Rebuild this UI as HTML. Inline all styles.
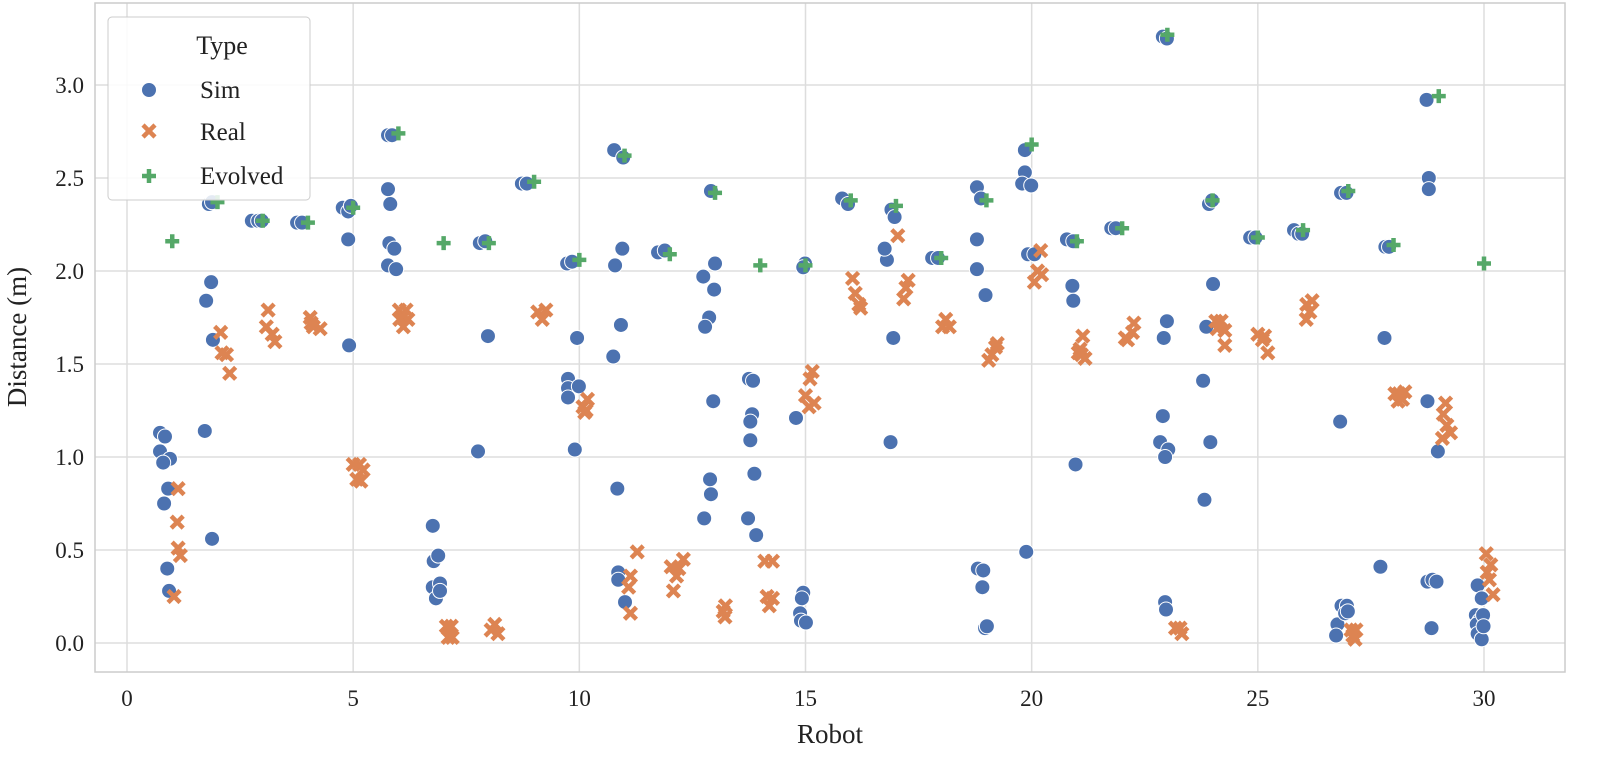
<!DOCTYPE html>
<html><head><meta charset="utf-8"><style>
html,body{margin:0;padding:0;background:#fff;}
svg{display:block;font-family:"Liberation Serif",serif;}
</style></head><body>
<svg id="chart" width="1600" height="761" viewBox="0 0 1600 761" xmlns="http://www.w3.org/2000/svg">
<g id="grid"></g>
<g id="marks"></g>
<rect x="95" y="3" width="1470" height="669" fill="none" stroke="#cccccc" stroke-width="1.5"/>
<g id="ticks"></g>
<text x="830" y="743" font-size="27" text-anchor="middle" fill="#222">Robot</text>
<text transform="translate(26,337) rotate(-90)" font-size="27" text-anchor="middle" fill="#222">Distance (m)</text>
<g>
<rect x="108" y="17" width="202" height="183" rx="4" fill="#fff" fill-opacity="0.85" stroke="#cccccc"/>
<text x="222" y="54" font-size="26" text-anchor="middle" fill="#222">Type</text>
<g><circle cx="149" cy="90" r="7.5" fill="#4c72b0" stroke="#fff" stroke-width="1"/><text x="200" y="98" font-size="25" fill="#222">Sim</text></g>
<g><path d="M143,125 L155,137 M155,125 L143,137" stroke="#dd8452" stroke-width="4.5"/><text x="200" y="140" font-size="25" fill="#222">Real</text></g>
<g><path d="M142,176 H156 M149,169 V183" stroke="#55a868" stroke-width="4.5"/><text x="200" y="184" font-size="25" fill="#222">Evolved</text></g>
</g>
</svg>
<script>
const xTicks=[0,5,10,15,20,25,30];
const yTicks=[0.0,0.5,1.0,1.5,2.0,2.5,3.0];
const simX=[0.73,0.84,0.73,0.95,0.80,0.91,0.82,0.89,0.93,
1.81,1.75,1.86,1.90,1.72,1.88,1.88,
2.76,2.90,2.98,3.76,3.87,
4.77,4.89,4.95,4.89,4.91,
5.77,5.86,5.77,5.82,5.80,5.91,5.77,5.95,
6.76,6.78,6.88,6.76,6.92,6.83,6.92,
7.76,7.80,7.92,7.98,8.73,8.84,
9.73,9.84,9.75,9.75,9.75,9.99,9.95,9.90,
10.77,10.97,10.95,10.79,10.92,10.75,10.84,10.86,10.86,11.01,
11.74,11.89,
12.91,12.74,13.00,12.98,12.87,12.78,12.96,12.89,12.91,12.76,
13.75,13.84,13.82,13.78,13.78,13.87,13.73,13.91,
14.79,14.95,14.92,14.88,14.90,15.01,14.99,14.95,
15.81,15.94,
16.90,16.97,16.80,16.75,16.94,16.88,
17.80,17.93,
18.79,18.88,18.79,18.79,18.98,18.81,18.93,18.91,18.97,19.01,
19.85,19.85,19.79,19.99,19.92,20.06,19.88,
20.78,20.92,20.90,20.92,20.97,
21.76,21.86,
22.90,22.99,22.99,22.92,22.90,22.84,23.02,22.95,22.95,22.97,
23.92,23.99,24.01,23.86,23.79,23.95,23.82,
24.83,24.95,25.80,25.90,25.98,
26.84,26.96,26.82,26.76,26.73,26.85,26.97,26.93,26.99,
27.82,27.90,27.80,27.71,
28.73,28.78,28.78,28.75,28.98,28.75,28.86,28.95,28.84,
29.86,29.95,29.82,29.90,29.84,29.98,29.86,29.95,29.99];
const simY=[1.13,1.11,1.03,0.99,0.97,0.83,0.75,0.40,0.28,
2.36,1.84,1.94,1.63,1.14,0.56,2.37,
2.27,2.27,2.27,2.26,2.26,
2.34,2.32,2.35,2.17,1.60,
2.73,2.73,2.44,2.36,2.15,2.12,2.03,2.01,
0.63,0.44,0.47,0.30,0.32,0.24,0.28,
1.03,2.15,2.16,1.65,2.47,2.47,
2.04,2.05,1.42,1.37,1.32,1.38,1.64,1.04,
2.65,2.61,2.12,2.03,1.71,1.54,0.83,0.38,0.34,0.22,
2.10,2.11,
2.43,1.97,2.04,1.90,1.75,1.70,1.30,0.88,0.80,0.67,
1.42,1.41,1.23,1.19,1.09,0.91,0.67,0.58,
1.21,0.27,0.24,0.16,0.12,0.11,2.04,2.02,
2.39,2.36,
2.33,2.29,2.06,2.12,1.64,1.08,
2.07,2.07,
2.45,2.39,2.17,2.01,1.87,0.40,0.39,0.30,0.08,0.09,
2.65,2.53,2.47,2.46,2.09,2.09,0.49,
2.17,2.16,1.92,1.84,0.96,
2.23,2.23,
3.26,3.25,1.73,1.64,1.22,1.08,1.04,1.00,0.22,0.18,
2.36,2.38,1.93,1.70,1.41,1.08,0.77,
2.18,2.18,2.22,2.20,2.20,
2.42,2.42,1.19,0.10,0.04,0.20,0.20,0.16,0.17,
2.13,2.13,1.64,0.41,
2.92,2.50,2.44,1.30,1.03,0.33,0.34,0.33,0.08,
0.31,0.24,0.15,0.12,0.10,0.15,0.05,0.02,0.09];
const realX=[1.13,1.11,1.13,1.18,1.04,2.07,2.10,2.20,2.27,3.12,3.08,3.21,3.27,4.05,4.07,4.12,4.27,
5.00,5.14,5.22,5.08,5.17,6.02,6.17,6.10,6.21,6.03,6.11,7.06,7.17,7.10,7.19,8.13,8.05,8.20,
9.08,9.26,9.18,10.08,10.18,10.15,10.12,11.28,11.13,11.09,11.13,12.03,12.20,12.30,12.15,12.08,
13.23,13.18,13.22,14.10,14.27,14.15,14.27,14.20,15.15,15.10,15.00,15.19,15.08,16.04,16.10,16.18,16.22,
17.04,17.27,17.22,17.17,18.10,18.03,18.18,19.24,19.20,19.12,19.05,20.20,20.13,20.22,20.06,
21.13,21.07,21.10,21.03,21.18,22.26,22.23,22.07,22.12,23.18,23.28,23.32,24.07,24.19,24.27,24.10,24.27,
25.00,25.15,25.10,25.22,26.08,26.20,26.15,26.07,27.06,27.17,27.10,27.15,28.03,28.12,28.25,28.10,28.20,
29.15,29.10,29.18,29.26,29.08,30.05,30.15,30.07,30.12,30.20];
const realY=[0.83,0.65,0.51,0.47,0.25,1.67,1.56,1.55,1.45,1.79,1.70,1.66,1.62,1.75,1.72,1.70,1.69,
0.96,0.96,0.93,0.88,0.87,1.79,1.79,1.75,1.74,1.74,1.70,0.09,0.09,0.03,0.03,0.10,0.07,0.05,
1.78,1.79,1.74,1.27,1.31,1.25,1.24,0.49,0.36,0.30,0.16,0.41,0.40,0.45,0.36,0.28,
0.20,0.17,0.14,0.44,0.44,0.25,0.24,0.20,1.46,1.42,1.33,1.29,1.27,1.96,1.88,1.82,1.80,
2.19,1.95,1.91,1.85,1.74,1.70,1.70,1.61,1.59,1.55,1.52,2.11,2.00,1.98,1.94,
1.65,1.58,1.55,1.56,1.53,1.72,1.67,1.64,1.63,0.08,0.08,0.05,1.73,1.73,1.68,1.69,1.60,
1.66,1.65,1.63,1.56,1.82,1.84,1.78,1.74,0.07,0.07,0.04,0.02,1.34,1.34,1.35,1.30,1.31,
1.29,1.23,1.17,1.13,1.10,0.48,0.42,0.38,0.34,0.26];
const evoX=[1,2,3,4,5,6,7,8,9,10,11,12,13,14,15,16,17,18,19,20,21,22,23,24,25,26,27,28,29,30];
const evoY=[2.16,2.37,2.27,2.26,2.34,2.74,2.15,2.15,2.48,2.06,2.62,2.09,2.42,2.03,2.03,2.38,2.35,2.07,2.38,2.68,2.16,2.23,3.27,2.38,2.18,2.22,2.43,2.14,2.94,2.04];

const NS="http://www.w3.org/2000/svg";
const L=95,R=1565,T=3,B=672;
function sx(v){return 127+v*(1484-127)/30;}
function sy(v){return 643-v*186;}
function mk(tag,attrs,parent){const e=document.createElementNS(NS,tag);for(const k in attrs)e.setAttribute(k,attrs[k]);parent.appendChild(e);return e;}
const grid=document.getElementById('grid'),ticks=document.getElementById('ticks'),marks=document.getElementById('marks');
xTicks.forEach(t=>{
  const g=mk('line',{x1:sx(t),x2:sx(t),y1:T,y2:B,stroke:'#dddddd','stroke-width':1.5},grid);
  
  
  const tx=mk('text',{x:sx(t),y:706,'font-size':23,'text-anchor':'middle',fill:'#222'},ticks);
  tx.textContent=String(t);
  
  
});
yTicks.forEach(t=>{
  const g=mk('line',{x1:L,x2:R,y1:sy(t),y2:sy(t),stroke:'#dddddd','stroke-width':1.5},grid);
  
  
  const tx=mk('text',{x:84,y:sy(t)+8,'font-size':23,'text-anchor':'end',fill:'#222'},ticks);
  tx.textContent=t.toFixed(1);
  
  
});
simX.forEach((x,i)=>{
  const c=mk('circle',{cx:sx(x),cy:sy(simY[i]),r:7.5,fill:'#4c72b0',stroke:'#fff','stroke-width':1},marks);
  
  
});
realX.forEach((x,i)=>{
  const cx=sx(x),cy=sy(realY[i]);
  const p=mk('path',{d:`M${cx-6},${cy-6} L${cx+6},${cy+6} M${cx+6},${cy-6} L${cx-6},${cy+6}`,stroke:'#dd8452','stroke-width':4.5},marks);
  
  
});
evoX.forEach((x,i)=>{
  const cx=sx(x),cy=sy(evoY[i]);
  const p=mk('path',{d:`M${cx-7},${cy} H${cx+7} M${cx},${cy-7} V${cy+7}`,stroke:'#55a868','stroke-width':4.5},marks);
  
  
});
</script>
</body></html>
